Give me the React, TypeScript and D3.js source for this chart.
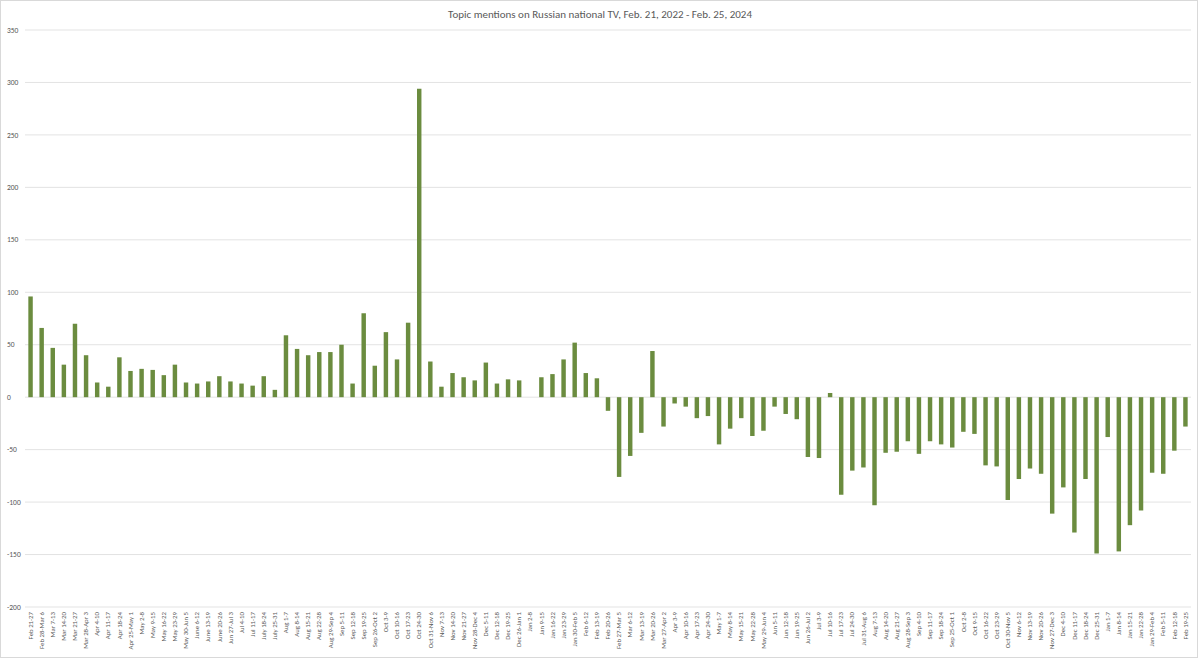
import { useMemo } from "react";
import * as d3 from "d3";

const title = "Topic mentions on Russian national TV, Feb. 21, 2022 - Feb. 25, 2024";

const weeks = [
  "Feb 21-27", "Feb 28-Mar 6", "Mar 7-13", "Mar 14-20", "Mar 21-27", "Mar 28-Apr 3",
  "Apr 4-10", "Apr 11-17", "Apr 18-24", "Apr 25-May 1", "May 2-8", "May 9-15",
  "May 16-22", "May 23-29", "May 30-Jun 5", "June 6-12", "June 13-19", "June 20-26",
  "Jun 27-Jul 3", "Jul 4-10", "Jul 11-17", "July 18-24", "July 25-31", "Aug 1-7",
  "Aug 8-14", "Aug 15-21", "Aug 22-28", "Aug 29-Sep 4", "Sep 5-11", "Sep 12-18",
  "Sep 19-25", "Sep 26-Oct 2", "Oct 3-9", "Oct 10-16", "Oct 17-23", "Oct 24-30",
  "Oct 31-Nov 6", "Nov 7-13", "Nov 14-20", "Nov 21-27", "Nov 28-Dec 4", "Dec 5-11",
  "Dec 12-18", "Dec 19-25", "Dec 26-Jan 1", "Jan 2-8", "Jan 9-15", "Jan 16-22",
  "Jan 23-29", "Jan 30-Feb 5", "Feb 6-12", "Feb 13-19", "Feb 20-26", "Feb 27-Mar 5",
  "Mar 6-12", "Mar 13-19", "Mar 20-26", "Mar 27-Apr 2", "Apr 3-9", "Apr 10-16",
  "Apr 17-23", "Apr 24-30", "May 1-7", "May 8-14", "May 15-21", "May 22-28",
  "May 29-Jun 4", "Jun 5-11", "Jun 12-18", "Jun 19-25", "Jun 26-Jul 2", "Jul 3-9",
  "Jul 10-16", "Jul 17-23", "Jul 24-30", "Jul 31-Aug 6", "Aug 7-13", "Aug 14-20",
  "Aug 21-27", "Aug 28-Sep 3", "Sep 4-10", "Sep 11-17", "Sep 18-24", "Sep 25-Oct 1",
  "Oct 2-8", "Oct 9-15", "Oct 16-22", "Oct 23-29", "Oct 30-Nov 5", "Nov 6-12",
  "Nov 13-19", "Nov 20-26", "Nov 27-Dec 3", "Dec 4-10", "Dec 11-17", "Dec 18-24",
  "Dec 25-31", "Jan 1-7", "Jan 8-14", "Jan 15-21", "Jan 22-28", "Jan 29-Feb 4",
  "Feb 5-11", "Feb 12-18", "Feb 19-25",
];

const mentions = [
  96, 66, 47, 31, 70, 40, 14, 10, 38, 25, 27, 26,
  21, 31, 14, 13, 15, 20, 15, 13, 11, 20, 7, 59,
  46, 40, 43, 43, 50, 13, 80, 30, 62, 36, 71, 294,
  34, 10, 23, 19, 16, 33, 13, 17, 16, 0, 19, 22,
  36, 52, 23, 18, -13, -76, -56, -34, 44, -28, -6, -9,
  -20, -18, -45, -30, -20, -37, -32, -9, -16, -21, -57, -58,
  4, -93, -70, -67, -103, -53, -52, -42, -54, -42, -45, -48,
  -33, -35, -65, -66, -98, -78, -68, -73, -111, -86, -129, -78,
  -149, -38, -147, -122, -108, -72, -73, -51, -28,
];

const yTicks = [-200, -150, -100, -50, 0, 50, 100, 150, 200, 250, 300, 350];

const W = 1200;
const H = 659;
const margin = { left: 25, right: 9, top: 30, bottom: 52 };
const font = "Calibri, Carlito, 'Open Sans', sans-serif";

export default function App() {
  const x = useMemo(
    () => d3.scaleBand<string>().domain(weeks).range([margin.left, W - margin.right]).paddingInner(0.6).paddingOuter(0.3),
    []
  );
  const y = useMemo(
    () => d3.scaleLinear().domain([-200, 350]).range([H - margin.bottom, margin.top]),
    []
  );

  return (
    <div style={{ position: "absolute", left: 0, top: 0 }}>
      <svg width={W} height={H} style={{ display: "block", background: "#fff" }}>
        <rect x={0.5} y={0.5} width={W - 3} height={H - 2} fill="#fff" stroke="#d9d9d9" />
        <text x={W / 2} y={18} textAnchor="middle" fontFamily={font} fontSize={11} fill="#595959">
          {title}
        </text>
        {yTicks.map((t) => (
          <g key={t}>
            <line x1={margin.left} x2={W - margin.right} y1={y(t)} y2={y(t)} stroke="#e3e3e3" strokeWidth={1} />
            <text x={7} y={y(t)} dy="0.35em" fontFamily={font} fontSize={7.5} fill="#595959">
              {t}
            </text>
          </g>
        ))}
        {weeks.map((w, i) => {
          const v = mentions[i];
          return (
            <rect
              key={w}
              x={x(w)}
              width={x.bandwidth()}
              y={y(Math.max(0, v))}
              height={Math.abs(y(v) - y(0))}
              fill="#6b8c3f"
            />
          );
        })}
        {weeks.map((w) => {
          const cx = (x(w) ?? 0) + x.bandwidth() / 2;
          const cy = y(-200) + 5;
          return (
            <text
              key={w}
              transform={`translate(${cx},${cy}) rotate(-90)`}
              textAnchor="end"
              dy="0.32em"
              fontFamily={font}
              fontSize={6.8}
              fill="#595959"
            >
              {w}
            </text>
          );
        })}
      </svg>
    </div>
  );
}
